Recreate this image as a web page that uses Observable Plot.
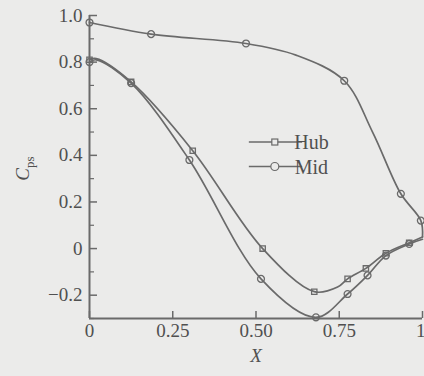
<!DOCTYPE html>
<html>
<head>
<meta charset="utf-8">
<script src="https://cdn.jsdelivr.net/npm/d3@7"></script>
<script src="https://cdn.jsdelivr.net/npm/@observablehq/plot@0.6"></script>
<style>
  html, body { margin: 0; padding: 0; background: #ebebea; }
  #chart { width: 424px; height: 376px; }
</style>
</head>
<body>
<div id="chart"></div>
<script>
// Static pressure coefficient along the blade, hub and mid span
const hubX = [0, 0.02, 0.125, 0.31, 0.52, 0.675, 0.745, 0.775, 0.83, 0.89, 0.96, 1.0];
const hubY = [0.81, 0.815, 0.715, 0.42, 0.0, -0.185, -0.165, -0.13, -0.085, -0.02, 0.025, 0.05];
const hubMarked = [true, false, true, true, true, true, false, true, true, true, true, false];

const midLowX = [0, 0.02, 0.125, 0.30, 0.515, 0.68, 0.775, 0.835, 0.89, 0.96, 1.0];
const midLowY = [0.80, 0.81, 0.71, 0.38, -0.13, -0.295, -0.195, -0.115, -0.03, 0.02, 0.04];
const midLowMarked = [true, false, true, true, true, true, true, true, true, true, false];

const midUpX = [0, 0.185, 0.47, 0.62, 0.765, 0.85, 0.935, 0.995, 1.0];
const midUpY = [0.97, 0.92, 0.88, 0.83, 0.72, 0.50, 0.235, 0.12, 0.05];
const midUpMarked = [true, true, true, false, true, false, true, true, false];

const seriesNames = ["Hub", "Mid"];

const xTicks = [0, 0.25, 0.5, 0.75, 1];
const xTickLabels = ["0", "0.25", "0.50", "0.75", "1"];
const yTicks = [-0.2, 0, 0.2, 0.4, 0.6, 0.8, 1.0];
const yTickLabels = ["\u22120.2", "0", "0.2", "0.4", "0.6", "0.8", "1.0"];
const yMinor = [-0.3, -0.1, 0.1, 0.3, 0.5, 0.7, 0.9];

function rows(series, part, xv, yv, marked) {
  return xv.map((x, i) => ({series, part, x, y: yv[i], marked: marked[i]}));
}
const data = [
  ...rows("Hub", "low", hubX, hubY, hubMarked),
  ...rows("Mid", "low", midLowX, midLowY, midLowMarked),
  ...rows("Mid", "up", midUpX, midUpY, midUpMarked)
];

const W = 424, H = 376;
const mL = 89, mR = 2, mT = 15, mB = 58;
const innerW = W - mL - mR, innerH = H - mT - mB;
const ink = "#6a6a6a";
const textInk = "#505050";
const bg = "#ebebea";
const serif = "'Liberation Serif', serif";

const xLabel = d => xTickLabels[xTicks.indexOf(d)];

const plot = Plot.plot({
  width: W, height: H,
  marginLeft: mL, marginRight: mR, marginTop: mT, marginBottom: mB,
  x: {domain: [0, 1]},
  y: {domain: [-0.3, 1.0]},
  style: {background: bg, fontFamily: serif, fontSize: "19px", color: textInk},
  marks: [
    Plot.axisX(xTicks.slice(0, -1), {tickSize: 0, tickPadding: 5, tickFormat: xLabel, fill: textInk, label: null}),
    Plot.axisX(xTicks.slice(-1), {tickSize: 0, tickPadding: 5, tickFormat: xLabel, fill: textInk, label: null,
      textAnchor: "end", dx: 3}),
    Plot.axisY({ticks: yTicks, tickSize: 0, tickPadding: 7,
      tickFormat: d => yTickLabels[yTicks.findIndex(t => Math.abs(t - d) < 1e-9)], fill: textInk, label: null}),
    // inward tick marks
    Plot.tickY(yTicks, {y: d => d, stroke: ink, strokeWidth: 1.5, insetRight: innerW - 8}),
    Plot.tickY(yMinor, {y: d => d, stroke: ink, strokeWidth: 1.2, insetRight: innerW - 5}),
    Plot.tickX(xTicks, {x: d => d, stroke: ink, strokeWidth: 1.5, insetTop: innerH - 7}),
    // axis lines
    Plot.ruleX([0], {stroke: ink, strokeWidth: 2}),
    Plot.ruleY([-0.3], {stroke: ink, strokeWidth: 2}),
    // curves
    Plot.line(data, {x: "x", y: "y", z: d => d.series + d.part, stroke: ink, strokeWidth: 1.7, curve: "catmull-rom"}),
    Plot.dot(data.filter(d => d.marked), {x: "x", y: "y",
      symbol: d => d.series === "Hub" ? "square" : "circle",
      r: d => d.series === "Hub" ? 3.2 : 4.2, stroke: ink, strokeWidth: 1.3, fill: "none"}),
    Plot.text(["X"], {frameAnchor: "bottom", dy: 43, fontStyle: "italic", fontSize: 19, fill: textInk})
  ]
});

const svg = d3.select(plot);
const xs = plot.scale("x"), ys = plot.scale("y");

// y-axis title C_ps
const yl = svg.append("text")
  .attr("transform", `translate(${mL - 60},${mT + innerH / 2 + 2}) rotate(-90)`)
  .attr("text-anchor", "middle")
  .attr("fill", textInk)
  .attr("font-family", serif)
  .attr("font-size", 19);
yl.append("tspan").attr("font-style", "italic").text("C");
yl.append("tspan").attr("font-size", 13).attr("dy", 5).text("ps");

// legend
const legX0 = xs.apply(0.48), legX1 = xs.apply(0.64), legM = xs.apply(0.558), legT = xs.apply(0.668);
const legY = [ys.apply(0.455), ys.apply(0.35)];
seriesNames.forEach((name, i) => {
  const g = svg.append("g");
  g.append("line").attr("x1", legX0).attr("x2", legX1).attr("y1", legY[i]).attr("y2", legY[i])
    .attr("stroke", ink).attr("stroke-width", 1.4);
  if (name === "Hub") {
    g.append("rect").attr("x", legM - 3).attr("y", legY[i] - 3).attr("width", 6).attr("height", 6)
      .attr("fill", bg).attr("stroke", ink).attr("stroke-width", 1.2);
  } else {
    g.append("circle").attr("cx", legM).attr("cy", legY[i]).attr("r", 4)
      .attr("fill", bg).attr("stroke", ink).attr("stroke-width", 1.2);
  }
  g.append("text").attr("x", legT).attr("y", legY[i]).attr("dy", "0.35em")
    .attr("fill", textInk).attr("font-family", serif).attr("font-size", 20)
    .text(name);
});

document.getElementById("chart").appendChild(plot);
</script>
</body>
</html>
